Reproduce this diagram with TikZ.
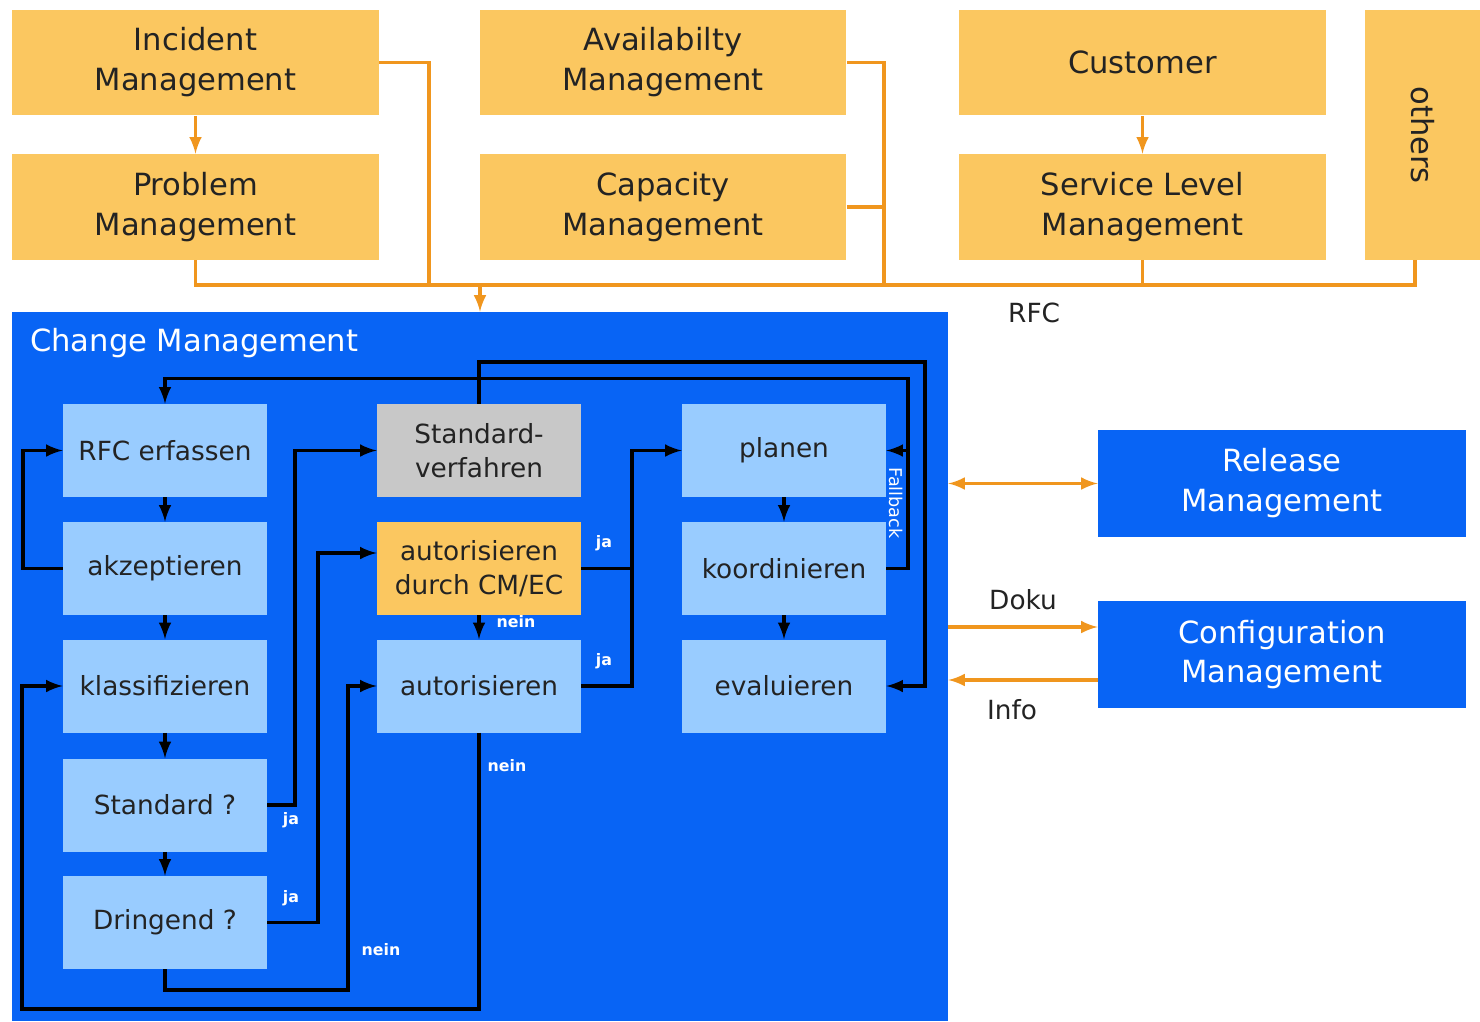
\documentclass[tikz,border=0pt]{standalone}
\usepackage{fontspec}
\setmainfont{DejaVu Sans}
\definecolor{boxorange}{RGB}{251,199,96}
\definecolor{lineorange}{RGB}{240,150,30}
\definecolor{cmblue}{RGB}{8,100,245}
\definecolor{lightblue}{RGB}{153,204,255}
\definecolor{boxgray}{RGB}{200,200,200}
\definecolor{textdark}{RGB}{35,35,35}

\begin{document}
\begin{tikzpicture}
		[x=0.02cm, y=-0.02cm,
		obox/.style={fill=boxorange, text=textdark, align=center, inner sep=0pt,
			minimum width=7.34cm, minimum height=2.12cm,
			font=\fontsize{17.4}{22.7}\selectfont},
		bbox/.style={fill=cmblue, text=white, align=center, inner sep=0pt,
			minimum width=7.36cm, minimum height=2.14cm,
			font=\fontsize{17.4}{22.7}\selectfont},
		ibox/.style={fill=lightblue, text=textdark, align=center, inner sep=0pt,
			minimum width=4.08cm, minimum height=1.86cm,
			font=\fontsize{15}{19.3}\selectfont},
		oline/.style={draw=lineorange, line width=2.2pt},
		oarrow/.style={oline, -latex},
		bline/.style={draw=black, line width=2.2pt},
		barrow/.style={bline, -latex},
		lab/.style={text=white, font=\fontsize{9}{11}\bfseries\selectfont},
		side/.style={text=textdark, font=\fontsize{15}{18}\selectfont}]
		\useasboundingbox (0,0) rectangle (1480,1021);
		% feeding processes
		\node[obox] (inc) at (195.5,62.5) {Incident\\Management};
		\node[obox] (prob) at (195.5,207) {Problem\\Management};
		\node[obox] (avail) at (663,62.5) {Availabilty\\Management};
		\node[obox] (cap) at (663,207) {Capacity\\Management};
		\node[obox] (cust) at (1142.5,62.5) {Customer};
		\node[obox] (slm) at (1142.5,207) {Service Level\\Management};
		\node[obox, rotate=-90, minimum width=5cm, minimum height=2.3cm] (others) at (1422.5,135) {others};
		\coordinate (j1) at (429,285);
		\coordinate (j2) at (884,285);
		\coordinate (busR) at (1415,285);
		\coordinate (busIn) at (480,285);
		\draw[oarrow] (inc) -- (prob);
		\draw[oarrow] (cust) -- (slm);
		\draw[oline] (inc.east) -| (j1);
		\draw[oline] (avail.east) -| (j2);
		\draw[oline] (cap.east) -- (cap.east -| j2);
		\draw[oline] (slm.south) -- (slm.south |- j2);
		\draw[oline] (prob.south) |- (busR) -- (busR |- others.east);
		% change management
		\node[fill=cmblue, minimum width=18.72cm, minimum height=14.18cm, inner sep=0pt] (cm) at (480,666.5) {};
		\draw[oarrow] (busIn) -- (busIn |- cm.north);
		\node[side, anchor=west] (rfc) at (1002,313) {RFC};
		\node[text=white, anchor=west, font=\fontsize{17.4}{21}\selectfont] (cmtitle) at (24,343) {Change Management};
		\node[ibox] (erfassen) at (165,450.5) {RFC erfassen};
		\node[ibox] (akzept) at (165,568.5) {akzeptieren};
		\node[ibox] (klassif) at (165,686) {klassifizieren};
		\node[ibox] (standard) at (165,805) {Standard ?};
		\node[ibox] (dringend) at (165,922.5) {Dringend ?};
		\node[ibox, fill=boxgray] (stdverf) at (479,450.5) {Standard-\\verfahren};
		\node[ibox, fill=boxorange] (autcm) at (479,568.5) {autorisieren\\durch CM/EC};
		\node[ibox] (autor) at (479,686) {autorisieren};
		\node[ibox] (planen) at (784,450.5) {planen};
		\node[ibox] (koord) at (784,568.5) {koordinieren};
		\node[ibox] (eval) at (784,686) {evaluieren};
		% flow
		\draw[barrow] (erfassen) -- (akzept);
		\draw[barrow] (akzept) -- (klassif);
		\draw[barrow] (klassif) -- (standard);
		\draw[barrow] (standard) -- (dringend);
		\draw[barrow] (akzept.west) -- ++(-40,0) |- (erfassen.west);
		\draw[barrow] (standard.east) -- ++(28,0) |- (stdverf.west);
		\draw[barrow] (dringend.east) -- ++(51,0) |- ([yshift=.31cm]autcm.west);
		\draw[barrow] (dringend.south) -- ++(0,21) -- ++(183,0) |- (autor.west);
		\draw[barrow] (autor.south) -- ++(0,276) -- ++(-457,0) |- (klassif.west);
		\draw[barrow] (autcm) -- (autor);
		\draw[bline] (autcm.east) -- ++(51,0);
		\draw[barrow] (autor.east) -- ++(51,0) |- (planen.west);
		\draw[barrow] (planen) -- (koord);
		\draw[barrow] (koord) -- (eval);
		\draw[barrow] (stdverf.north) -- ++(0,-42) -- ++(446,0) |- (eval.east);
		\draw[barrow] (koord.east) -- ++(22,0) -- ++(0,-190) -| (erfassen.north);
		\draw[barrow] ([xshift=.44cm]planen.east) -- (planen.east);
		\node[text=white, rotate=-90, font=\fontsize{10}{12}\selectfont] (fallback) at (896,503) {Fallback};
		\node[lab] (ja1) at (291,820) {ja};
		\node[lab] (ja2) at (291,898) {ja};
		\node[lab] (nein1) at (381,950) {nein};
		\node[lab] (nein2) at (507,766) {nein};
		\node[lab] (nein3) at (516,622) {nein};
		\node[lab] (ja3) at (604,543) {ja};
		\node[lab] (ja4) at (604,661) {ja};
		% neighbours
		\node[bbox] (rel) at (1282,483.5) {Release\\Management};
		\node[bbox] (conf) at (1282,654.5) {Configuration\\Management};
		\coordinate (doku) at ([yshift=.55cm]conf.west);
		\coordinate (info) at ([yshift=-.51cm]conf.west);
		\draw[oline, latex-latex] (rel.west -| cm.east) -- (rel.west);
		\draw[oarrow] (doku -| cm.east) -- (doku);
		\draw[oarrow] (info) -- (info -| cm.east);
		\node[side] (dokulab) at (1023,600) {Doku};
		\node[side] (infolab) at (1012,710) {Info};
\end{tikzpicture}
\end{document}
